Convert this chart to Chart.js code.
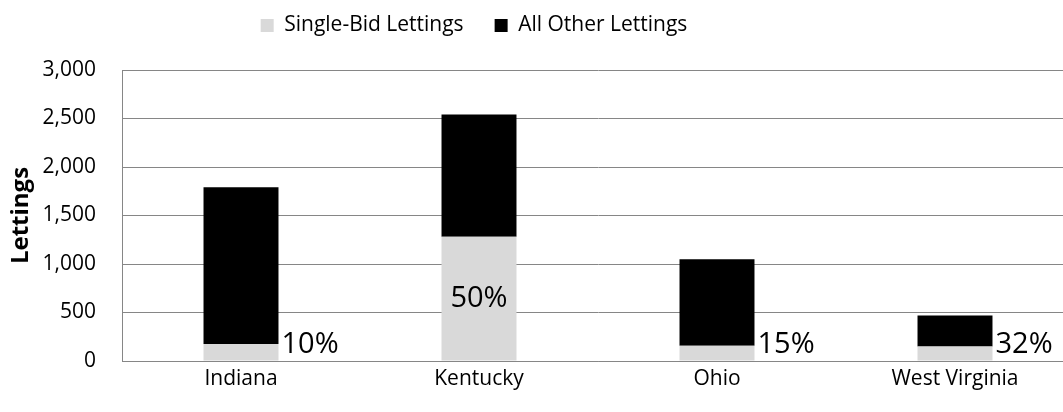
<!DOCTYPE html>
<html>
<head>
<meta charset="utf-8">
<script src="https://cdn.jsdelivr.net/npm/chart.js@4/dist/chart.umd.min.js"></script>
<style>
    html, body { margin: 0; padding: 0; background: #fff; overflow: hidden; }
    #wrap { position: relative; width: 1074px; height: 412px; }
</style>
</head>
<body>
<div id="wrap"><canvas id="lettingsChart"></canvas></div>
<script>
// Werte
const states = ['Indiana', 'Kentucky', 'Ohio', 'West Virginia'];
const singleBid = [175, 1280, 157, 150];
const allOther = [1615, 1260, 893, 320];
const shareLabels = ['10%', '50%', '15%', '32%'];
const yTicks = [0, 500, 1000, 1500, 2000, 2500, 3000];

const fontFamily = "'Open Sans', 'Noto Sans', sans-serif";

// Anteil-Beschriftung: in das Segment, wenn es hoch genug ist, sonst rechts daneben
const shareLabelPlugin = {
    id: 'shareLabels',
    afterDatasetsDraw(chart)
    {
        const ctx = chart.ctx;
        const meta = chart.getDatasetMeta(0);
        ctx.save();
        ctx.font = '29px ' + fontFamily;
        ctx.fillStyle = '#000';
        meta.data.forEach((bar, i) =>
        {
            const segHeight = bar.base - bar.y;
            if (segHeight > 40)
            {
                ctx.textAlign = 'center';
                ctx.textBaseline = 'middle';
                ctx.fillText(shareLabels[i], bar.x, (bar.y + bar.base) / 2);
            }
            else
            {
                ctx.textAlign = 'left';
                ctx.textBaseline = 'alphabetic';
                ctx.fillText(shareLabels[i], bar.x + bar.width / 2 + 3, bar.base - 8);
            }
        });
        ctx.restore();
    }
};

// Legendenhöhe festlegen und Legende etwas nach links/oben schieben
const legendPlacePlugin = {
    id: 'legendPlace',
    beforeInit(chart)
    {
        const fit = chart.legend.fit;
        chart.legend.fit = function ()
        {
            fit.bind(chart.legend)();
            this.height = 70;
        };
    },
    afterLayout(chart)
    {
        const legend = chart.legend;
        legend.left -= 63;
        legend.right -= 63;
        legend.top -= 16;
    }
};

new Chart(document.getElementById('lettingsChart'), {
    type: 'bar',
    data: {
        labels: states,
        datasets: [
            {
                label: 'Single-Bid Lettings',
                data: singleBid,
                backgroundColor: '#d9d9d9',
                borderWidth: 0,
                barPercentage: 0.315,
                categoryPercentage: 1.0,
            },
            {
                label: 'All Other Lettings',
                data: allOther,
                backgroundColor: '#000000',
                borderWidth: 0,
                barPercentage: 0.315,
                categoryPercentage: 1.0,
            },
        ]
    },
    options: {
        responsive: true,
        maintainAspectRatio: false,
        animation: false,
        layout: {
            padding: { left: 0, right: 0, top: 0, bottom: 0 }
        },
        scales: {
            x: {
                stacked: true,
                grid: { display: false, drawTicks: false },
                border: { display: true, color: '#868686', width: 1 },
                ticks: {
                    color: '#000',
                    padding: 5,
                    font: { family: fontFamily, size: 21 },
                },
                afterFit(scale) { scale.height = 51; }
            },
            y: {
                stacked: true,
                min: 0,
                max: 3000,
                afterBuildTicks(scale)
                {
                    scale.ticks = yTicks.map(v => ({ value: v }));
                },
                grid: { color: '#868686', drawTicks: false },
                border: { display: true, color: '#868686', width: 1 },
                ticks: {
                    color: '#000',
                    padding: 26,
                    font: { family: fontFamily, size: 21 },
                    callback: function (value)
                    {
                        return value.toLocaleString('en-US');
                    }
                },
                title: {
                    display: true,
                    text: 'Lettings',
                    color: '#000',
                    padding: { top: 7, bottom: 0 },
                    font: { family: fontFamily, size: 24, weight: 'bold' },
                },
                afterFit(scale) { scale.width = 122; }
            }
        },
        plugins: {
            legend: {
                display: true,
                position: 'top',
                labels: {
                    color: '#000',
                    boxWidth: 13,
                    boxHeight: 13,
                    padding: 31,
                    font: { family: fontFamily, size: 21 },
                },
            },
            tooltip: { enabled: false },
        }
    },
    plugins: [shareLabelPlugin, legendPlacePlugin]
});
</script>
</body>
</html>
